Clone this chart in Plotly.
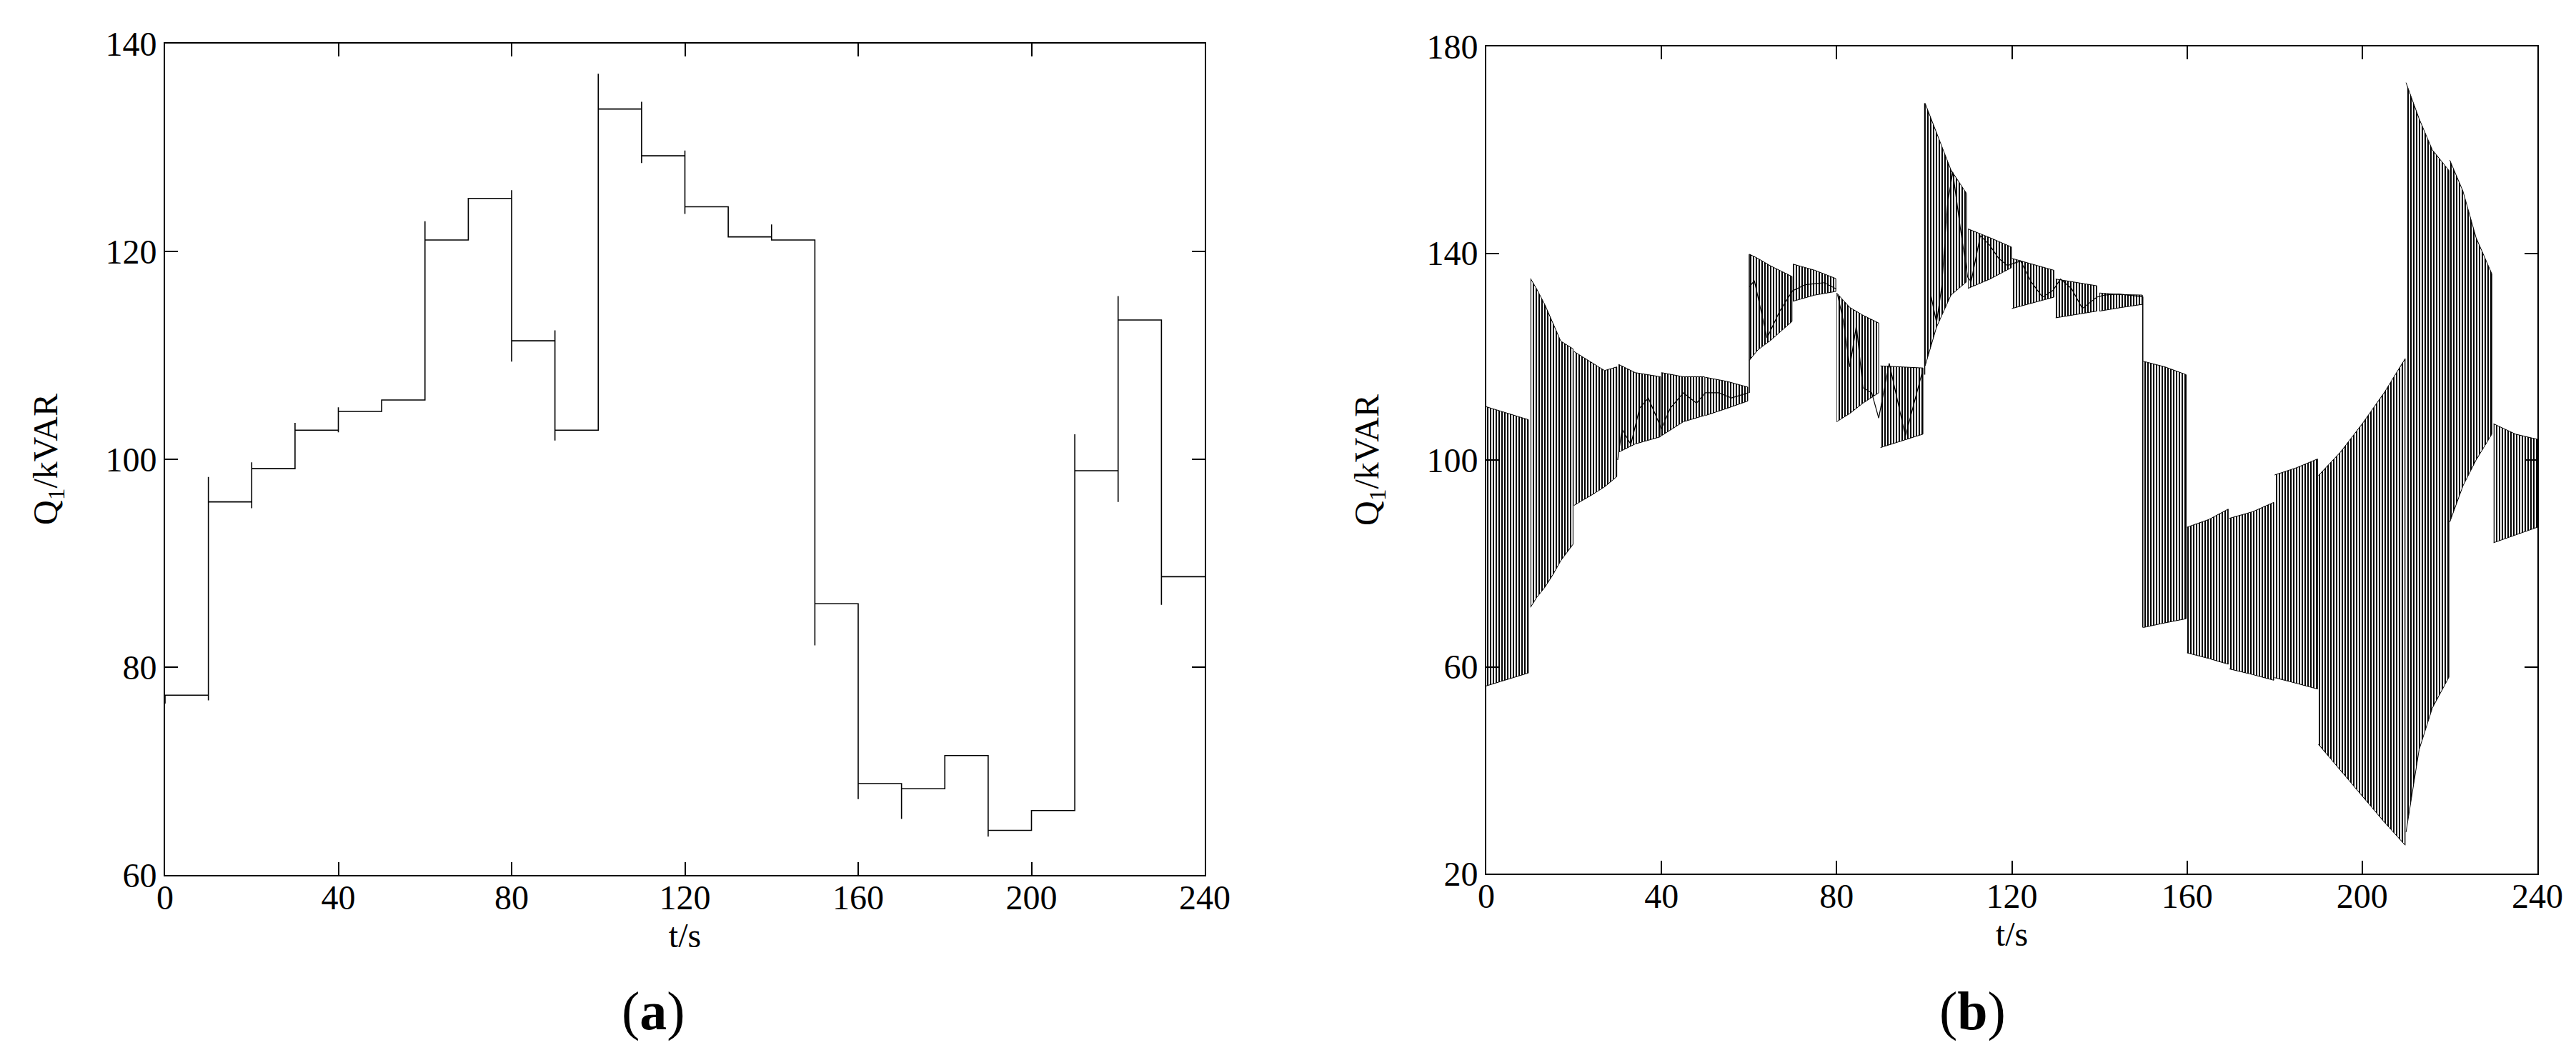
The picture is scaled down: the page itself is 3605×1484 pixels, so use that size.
import plotly.graph_objects as go

W, H = 3605, 1484

# ---------------- Panel (a): stepwise Q1 ----------------
a_seg_start = list(range(0, 240, 10))
a_seg_val = [77.3, 95.9, 99.1, 102.8, 104.6, 105.7, 121.1, 125.1, 111.4, 102.8,
             133.7, 129.2, 124.3, 121.4, 121.1, 86.1, 68.8, 68.3, 71.5, 64.3,
             66.2, 98.9, 113.4, 88.7]
a_transients = [[76.5], [78.5, 76.8, 98.3], [95.3, 99.7], [103.5], [102.6, 105.0], [],
                [115.5, 122.9], [], [125.9, 114.0, 109.4], [112.4, 101.8], [137.1],
                [134.4, 128.5], [129.7, 123.6], [], [122.6], [82.1], [67.3], [65.4],
                [], [63.7], [], [102.4], [95.9, 115.7], [86.0]]
a_t_end = 240

# ---------------- Panel (b): chattering Q1 (band envelopes) ----------------
b_band_t = [[0, 9.6], [10.1, 11.5, 13.4, 15.2, 17, 19.8], [20, 24, 27, 29.8],
            [30.2, 34, 39.8], [40, 45, 49.8], [50, 55, 59.7], [60.1, 62, 65, 69.8],
            [70, 75, 79.8], [80, 83, 86, 89.6], [90, 95, 99.7],
            [100.2, 102.8, 106.1, 109.7], [110, 115, 119.9], [120, 125, 129.6],
            [130, 135, 139.4], [140, 145, 149.8], [150, 155, 159.8], [160, 165, 169.4],
            [169.6, 175, 179.8], [180, 185, 189.8], [190, 195, 200, 205, 209.8],
            [210, 213, 216, 219.8], [220, 223, 226, 229.6], [230, 235, 240]]
b_band_up = [[110.3, 107.8], [135.1, 133.1, 130, 126.4, 123, 121.5], [121, 118.9, 117.3, 118],
             [118.5, 116.9, 116.1], [116.9, 116.1, 116.1], [116, 115.2, 114.1],
             [139.8, 139, 137.5, 135.5], [137.9, 136.7, 135.1], [132.3, 129.5, 128, 126.5],
             [118.2, 118, 117.8], [169, 163.2, 156.1, 151.5], [144.7, 143, 141.2],
             [139, 137.8, 136.7], [135, 134.3, 133.7], [132.3, 132, 131.9],
             [119.1, 118, 116.5], [87, 88.5, 90.5], [88.7, 90, 91.8], [97.1, 98.5, 100.2],
             [97, 101.5, 107, 113, 119.6], [173, 166, 160, 156], [158, 152, 143, 136],
             [107, 105, 104]]
b_band_lo = [[56.3, 58.8], [71.5, 73.4, 75.4, 77.8, 80.5, 83.7], [91.2, 93.2, 94.8, 96.8],
             [101.5, 103.1, 104.5], [104.7, 107.4, 108.6], [108.6, 110, 111.4],
             [119.3, 121.3, 123.2, 126.8], [130.7, 131.9, 132.6], [107.4, 109, 111, 113],
             [102.4, 103.7, 105], [118.2, 125.7, 131.9, 134.5], [133.2, 135, 137.2],
             [129.3, 130.4, 131.5], [127.5, 128.2, 128.8], [128.8, 129.5, 130.1],
             [67.6, 68.5, 69.3], [62.7, 61.6, 60.5], [59.6, 58.5, 57.4], [57.9, 56.8, 55.7],
             [45, 40, 35, 30, 25.5], [28, 44, 52, 58], [88, 95, 100, 105],
             [84, 85.5, 87]]

# mean (wandering) trace visible inside the narrower bands, None = gap
b_mid_t = [30, 31, 33, 35, 37, 40, 42, 45, 48, 50, 53, 56, 59.8, None,
           60.1, 61.2, 64.1, 67, 69.9, 72.8, 77.2, 79.9, None,
           80.2, 81.5, 83, 84.5, 86, 88, 89.6, 92, 95.7, 99.5, None,
           101.5, 102.8, 104, 105.3, 106.5, 108.2, 109.9, 110.7, 112.8, 114.9, 117, 119,
           122, 124.4, 127, 129.4, 131.1, 133.6, 136.1, 139.4, 141.1, 144.4, 149.8]
b_mid_v = [100, 106, 103, 110, 112, 106, 110, 113, 111, 113, 113, 112, 113, None,
           133.5, 134.7, 123.6, 128.8, 132.7, 133.9, 134.3, 133.1, None,
           132, 127, 118, 126, 114, 113, 108.1, 118.7, 104.6, 116.9, None,
           131.9, 126.6, 133.6, 149.5, 155.7, 145.1, 135.4, 134.5, 143.4, 141.6, 139, 137.6,
           138.5, 134.5, 131.5, 132.8, 135, 133.2, 129.3, 131.5, 131.9, 132.1, 131.6]

# step jumps between bands (vertical transitions)
b_jump_t = [60.05, 60.05, None, 100.1, 100.1, None, 149.9, 149.9]
b_jump_v = [113.0, 139.8, None, 116.5, 169.0, None, 131.6, 67.6]

# ---------------- figure ----------------
FONT = "Liberation Serif"
fig = go.Figure()

xa, ya = [], []
for i, t0 in enumerate(a_seg_start):
    for v in a_transients[i]:
        xa.append(t0)
        ya.append(v)
    t1 = a_seg_start[i + 1] if i + 1 < len(a_seg_start) else a_t_end
    xa += [t0, t1]
    ya += [a_seg_val[i], a_seg_val[i]]
fig.add_trace(go.Scatter(x=xa, y=ya, mode="lines", line=dict(color="black", width=1.6),
                         xaxis="x", yaxis="y", showlegend=False, hoverinfo="skip"))

for tt, up, lo in zip(b_band_t, b_band_up, b_band_lo):
    fig.add_trace(go.Scatter(
        x=tt + tt[::-1], y=up + lo[::-1], mode="lines", fill="toself",
        fillcolor="rgba(255,255,255,0)",
        fillpattern=dict(shape="|", fgcolor="black", bgcolor="white", fgopacity=1,
                         size=4, solidity=0.5),
        line=dict(color="black", width=1), xaxis="x2", yaxis="y2",
        showlegend=False, hoverinfo="skip"))

fig.add_trace(go.Scatter(x=b_mid_t, y=b_mid_v, mode="lines", connectgaps=False,
                         line=dict(color="black", width=1.2),
                         xaxis="x2", yaxis="y2", showlegend=False, hoverinfo="skip"))
fig.add_trace(go.Scatter(x=b_jump_t, y=b_jump_v, mode="lines", connectgaps=False,
                         line=dict(color="black", width=1.5),
                         xaxis="x2", yaxis="y2", showlegend=False, hoverinfo="skip"))

axis_common = dict(showline=True, linecolor="black", linewidth=2, mirror="ticks",
                   ticks="inside", ticklen=18, tickwidth=1.5, tickcolor="black",
                   showgrid=False, zeroline=False, automargin=False,
                   tickfont=dict(family=FONT, size=48, color="black"))

xt = dict(text="t/s", font=dict(family=FONT, size=48, color="black"), standoff=0)
yt = dict(text="Q<sub>1</sub>/kVAR", font=dict(family=FONT, size=48, color="black"), standoff=52)

fig.update_layout(
    width=W, height=H, margin=dict(l=0, r=0, t=0, b=0),
    paper_bgcolor="white", plot_bgcolor="white",
    xaxis=dict(domain=[223 / W, 1678 / W], range=[0, 240], tickvals=[0, 40, 80, 120, 160, 200, 240],
               anchor="y", title=xt, ticklabelstandoff=-12, **axis_common),
    yaxis=dict(domain=[1 - 1217 / H, 1 - 53 / H], range=[60, 140], tickvals=[60, 80, 100, 120, 140],
               anchor="x", title=yt, **axis_common),
    xaxis2=dict(domain=[2072 / W, 3543 / W], range=[0, 240], tickvals=[0, 40, 80, 120, 160, 200, 240],
                anchor="y2", title=xt, ticklabelstandoff=-12, **axis_common),
    yaxis2=dict(domain=[1 - 1215 / H, 1 - 57 / H], range=[20, 180], tickvals=[20, 60, 100, 140, 180],
                anchor="x2", title=yt, **axis_common),
    annotations=[
        dict(text="(<b>a</b>)", x=907 / W, y=1 - 1407 / H, xref="paper", yref="paper",
             xanchor="center", yanchor="middle",
             showarrow=False, font=dict(family=FONT, size=76, color="black")),
        dict(text="(<b>b</b>)", x=2752 / W, y=1 - 1407 / H, xref="paper", yref="paper",
             xanchor="center", yanchor="middle",
             showarrow=False, font=dict(family=FONT, size=76, color="black")),
    ],
)

fig.write_html("out.html")
